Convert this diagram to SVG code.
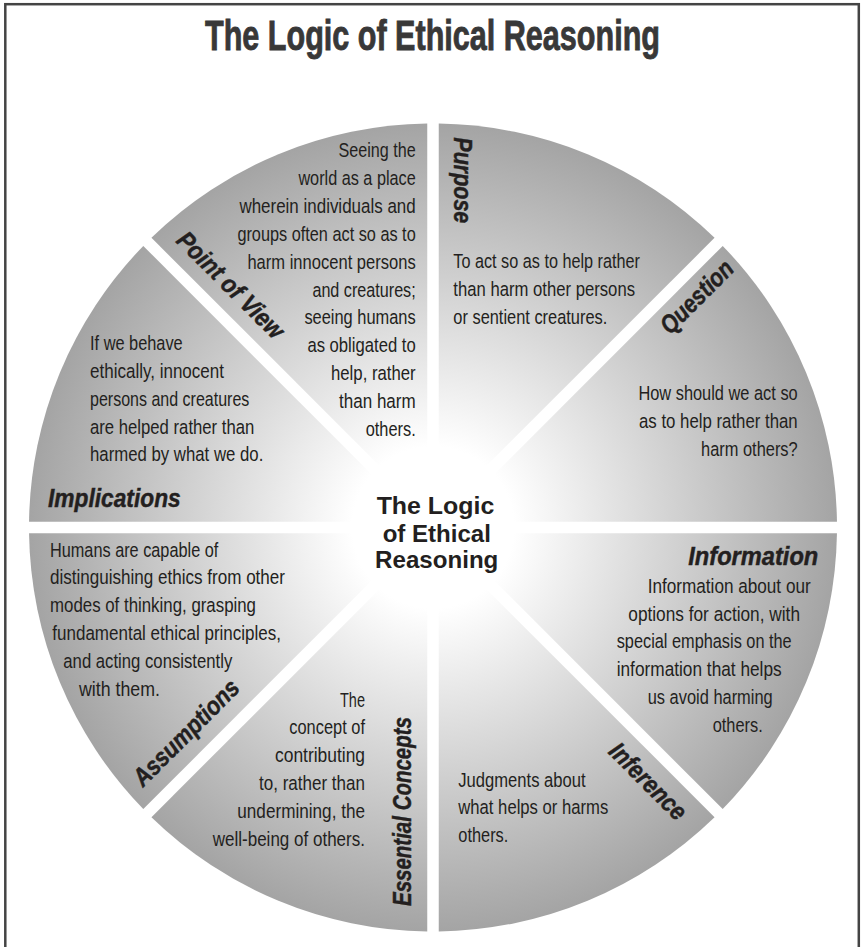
<svg xmlns="http://www.w3.org/2000/svg" width="862" height="947" viewBox="0 0 862 947">
<defs>
<radialGradient id="wg" gradientUnits="userSpaceOnUse" cx="433" cy="527.5" r="404">
<stop offset="0" stop-color="#ffffff"/>
<stop offset="0.2" stop-color="#ffffff"/>
<stop offset="1" stop-color="#a4a4a4"/>
</radialGradient>
<style>
.w{fill:url(#wg);stroke:none}
.b{font-family:'Liberation Sans Narrow','Arial Narrow','Liberation Sans',sans-serif;font-size:20.5px;fill:#231f20}
.r{text-anchor:end}
.lbl{font-family:'Liberation Sans Narrow','Arial Narrow','Liberation Sans',sans-serif;font-size:25.5px;font-weight:bold;font-style:italic;fill:#231f20;stroke:#231f20;stroke-width:0.45px}
.ctr{font-family:'Liberation Sans',Arial,sans-serif;font-size:24px;font-weight:bold;text-anchor:middle;fill:#231f20}
.ttl{font-family:'Liberation Sans Narrow','Arial Narrow','Liberation Sans',sans-serif;font-size:43px;font-weight:bold;text-anchor:middle;fill:#383838;stroke:#383838;stroke-width:0.9px}
</style>
</defs>
<rect x="0" y="0" width="862" height="947" fill="#ffffff"/>
<rect id="frame" x="5.3" y="4.2" width="853.5" height="960" fill="none" stroke="#444444" stroke-width="2.5"/>
<text id="title" class="ttl" x="432.5" y="49.5" textLength="455" lengthAdjust="spacingAndGlyphs">The Logic of Ethical Reasoning</text>

<g id="purpose">
<path class="w" d="M438.75,513.61 L438.75,123.54 A404,404 0 0 1 714.57,237.79 Z"/>
<text class="lbl" transform="translate(433,527.5) rotate(90)" x="-390.2" y="-21" textLength="86" lengthAdjust="spacingAndGlyphs">Purpose</text>
<text class="b" x="453.3" y="268" textLength="186.7" lengthAdjust="spacingAndGlyphs">To act so as to help rather</text>
<text class="b" x="453.3" y="295.8" textLength="181.7" lengthAdjust="spacingAndGlyphs">than harm other persons</text>
<text class="b" x="453.3" y="323.6" textLength="154" lengthAdjust="spacingAndGlyphs">or sentient creatures.</text>
</g>

<g id="question">
<path class="w" d="M446.89,521.75 L722.71,245.93 A404,404 0 0 1 836.96,521.75 Z"/>
<text class="lbl" transform="translate(433,527.5) rotate(-45)" x="303.7" y="32" textLength="92" lengthAdjust="spacingAndGlyphs">Question</text>
<text class="b r" x="797.7" y="400" textLength="159.3" lengthAdjust="spacingAndGlyphs">How should we act so</text>
<text class="b r" x="797.7" y="427.7" textLength="158.7" lengthAdjust="spacingAndGlyphs">as to help rather than</text>
<text class="b r" x="797.7" y="455.5" textLength="96.7" lengthAdjust="spacingAndGlyphs">harm others?</text>
</g>

<g id="information">
<path class="w" d="M446.89,533.25 L836.96,533.25 A404,404 0 0 1 722.71,809.07 Z"/>
<text class="lbl r" x="818.3" y="565" textLength="130" lengthAdjust="spacingAndGlyphs">Information</text>
<text class="b" x="647.7" y="592.7" textLength="163" lengthAdjust="spacingAndGlyphs">Information about our</text>
<text class="b" x="628.3" y="620.7" textLength="171.7" lengthAdjust="spacingAndGlyphs">options for action, with</text>
<text class="b" x="616.7" y="648.3" textLength="175" lengthAdjust="spacingAndGlyphs">special emphasis on the</text>
<text class="b" x="616.7" y="676" textLength="165" lengthAdjust="spacingAndGlyphs">information that helps</text>
<text class="b" x="647.7" y="704" textLength="125" lengthAdjust="spacingAndGlyphs">us avoid harming</text>
<text class="b" x="712.7" y="731.7" textLength="50" lengthAdjust="spacingAndGlyphs">others.</text>
</g>

<g id="inference">
<path class="w" d="M438.75,541.39 L714.57,817.21 A404,404 0 0 1 438.75,931.46 Z"/>
<text class="lbl" transform="translate(433,527.5) rotate(45)" x="282.5" y="36" textLength="98" lengthAdjust="spacingAndGlyphs">Inference</text>
<text class="b" x="458.3" y="786.7" textLength="127.3" lengthAdjust="spacingAndGlyphs">Judgments about</text>
<text class="b" x="458.3" y="814.3" textLength="150" lengthAdjust="spacingAndGlyphs">what helps or harms</text>
<text class="b" x="458.3" y="841.7" textLength="50" lengthAdjust="spacingAndGlyphs">others.</text>
</g>

<g id="essential-concepts">
<path class="w" d="M427.25,541.39 L427.25,931.46 A404,404 0 0 1 151.43,817.21 Z"/>
<text class="lbl" transform="translate(433,527.5) rotate(-90)" x="-378.5" y="-22" textLength="189" lengthAdjust="spacingAndGlyphs">Essential Concepts</text>
<text class="b r" x="365" y="706.7" textLength="25" lengthAdjust="spacingAndGlyphs">The</text>
<text class="b r" x="365" y="734.3" textLength="75.7" lengthAdjust="spacingAndGlyphs">concept of</text>
<text class="b r" x="365" y="762.3" textLength="90" lengthAdjust="spacingAndGlyphs">contributing</text>
<text class="b r" x="365" y="790" textLength="106" lengthAdjust="spacingAndGlyphs">to, rather than</text>
<text class="b r" x="365" y="817.7" textLength="127.7" lengthAdjust="spacingAndGlyphs">undermining, the</text>
<text class="b r" x="365" y="845.7" textLength="152.3" lengthAdjust="spacingAndGlyphs">well-being of others.</text>
</g>

<g id="assumptions">
<path class="w" d="M419.11,533.25 L143.29,809.07 A404,404 0 0 1 29.04,533.25 Z"/>
<text class="lbl" transform="translate(433,527.5) rotate(-45)" x="-389.2" y="-21" textLength="139" lengthAdjust="spacingAndGlyphs">Assumptions</text>
<text class="b" x="50" y="556.7" textLength="168.3" lengthAdjust="spacingAndGlyphs">Humans are capable of</text>
<text class="b" x="50" y="584.3" textLength="235" lengthAdjust="spacingAndGlyphs">distinguishing ethics from other</text>
<text class="b" x="50" y="612.3" textLength="206" lengthAdjust="spacingAndGlyphs">modes of thinking, grasping</text>
<text class="b" x="52.3" y="640" textLength="228.7" lengthAdjust="spacingAndGlyphs">fundamental ethical principles,</text>
<text class="b" x="63.3" y="667.7" textLength="169" lengthAdjust="spacingAndGlyphs">and acting consistently</text>
<text class="b" x="79" y="695.7" textLength="81" lengthAdjust="spacingAndGlyphs">with them.</text>
</g>

<g id="implications">
<path class="w" d="M419.11,521.75 L29.04,521.75 A404,404 0 0 1 143.29,245.93 Z"/>
<text class="lbl" x="48" y="506.7" textLength="132.7" lengthAdjust="spacingAndGlyphs">Implications</text>
<text class="b" x="90" y="350" textLength="92.7" lengthAdjust="spacingAndGlyphs">If we behave</text>
<text class="b" x="90" y="377.8" textLength="134" lengthAdjust="spacingAndGlyphs">ethically, innocent</text>
<text class="b" x="90" y="405.7" textLength="159.3" lengthAdjust="spacingAndGlyphs">persons and creatures</text>
<text class="b" x="90" y="433.5" textLength="164.3" lengthAdjust="spacingAndGlyphs">are helped rather than</text>
<text class="b" x="90" y="461.4" textLength="173.3" lengthAdjust="spacingAndGlyphs">harmed by what we do.</text>
</g>

<g id="point-of-view">
<path class="w" d="M427.25,513.61 L151.43,237.79 A404,404 0 0 1 427.25,123.54 Z"/>
<text class="lbl" transform="translate(433,527.5) rotate(45)" x="-384.5" y="-19.7" textLength="140" lengthAdjust="spacingAndGlyphs">Point of View</text>
<text class="b r" x="415.7" y="157" textLength="77.3" lengthAdjust="spacingAndGlyphs">Seeing the</text>
<text class="b r" x="415.7" y="184.9" textLength="117.3" lengthAdjust="spacingAndGlyphs">world as a place</text>
<text class="b r" x="415.7" y="212.8" textLength="176.3" lengthAdjust="spacingAndGlyphs">wherein individuals and</text>
<text class="b r" x="415.7" y="240.7" textLength="178.3" lengthAdjust="spacingAndGlyphs">groups often act so as to</text>
<text class="b r" x="415.7" y="268.6" textLength="168.3" lengthAdjust="spacingAndGlyphs">harm innocent persons</text>
<text class="b r" x="415.7" y="296.5" textLength="103.3" lengthAdjust="spacingAndGlyphs">and creatures;</text>
<text class="b r" x="415.7" y="324.4" textLength="111.3" lengthAdjust="spacingAndGlyphs">seeing humans</text>
<text class="b r" x="415.7" y="352.3" textLength="108.3" lengthAdjust="spacingAndGlyphs">as obligated to</text>
<text class="b r" x="415.7" y="380.2" textLength="84.7" lengthAdjust="spacingAndGlyphs">help, rather</text>
<text class="b r" x="415.7" y="408.1" textLength="76.7" lengthAdjust="spacingAndGlyphs">than harm</text>
<text class="b r" x="415.7" y="436" textLength="50" lengthAdjust="spacingAndGlyphs">others.</text>
</g>

<g id="center">
<text class="ctr" x="435.5" y="514" textLength="117.7" lengthAdjust="spacingAndGlyphs">The Logic</text>
<text class="ctr" x="436.8" y="541.7" textLength="108.3" lengthAdjust="spacingAndGlyphs">of Ethical</text>
<text class="ctr" x="436.7" y="568.3" textLength="123.3" lengthAdjust="spacingAndGlyphs">Reasoning</text>
</g>
<g id="connectors"/>
</svg>
